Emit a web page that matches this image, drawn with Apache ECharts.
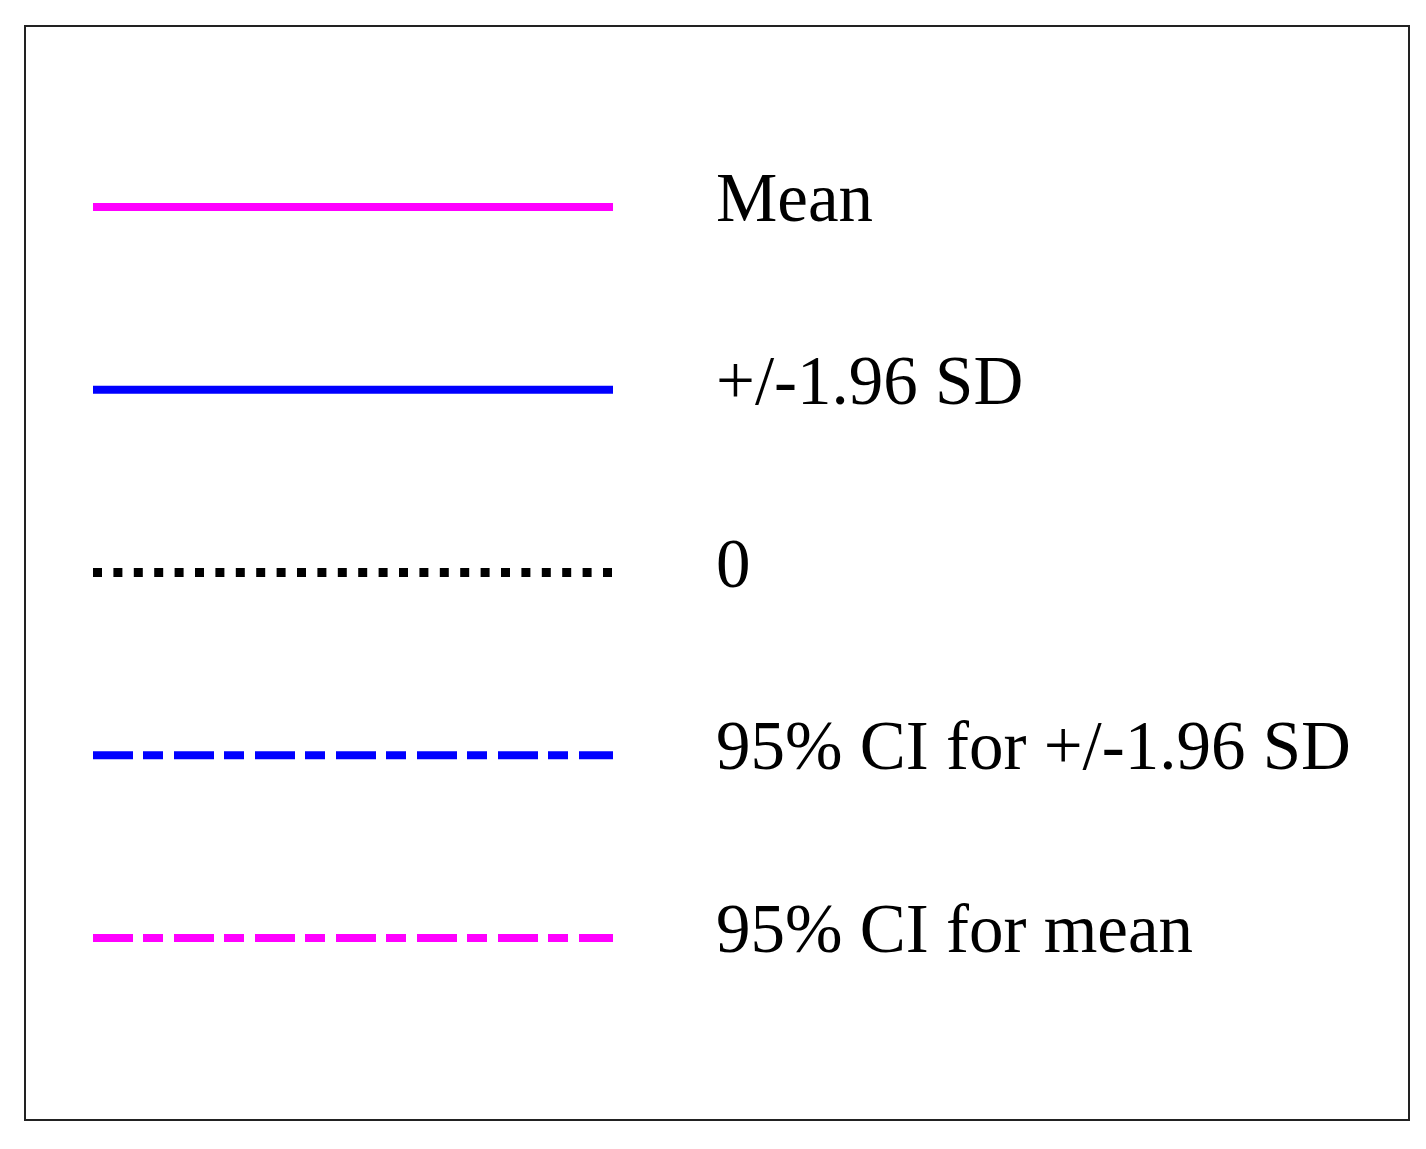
<!DOCTYPE html>
<html>
<head>
<meta charset="utf-8">
<script src="https://cdn.jsdelivr.net/npm/echarts@6/dist/echarts.min.js"></script>
<style>
  html, body { margin: 0; padding: 0; background: #fff; }
  #chart { width: 1426px; height: 1149px; }
</style>
</head>
<body>
<div id="chart"></div>
<script>
// legend entries, top to bottom
var names = ['Mean', '+/-1.96 SD', '0', '95% CI for +/-1.96 SD', '95% CI for mean'];
var rows = [0, 1, 2, 3, 4];   // row index of each entry
var lineFrom = 0, lineTo = 1; // sample line runs across the whole key column

var colors = ['#ff00ff', '#0000ff', '#000000', '#0000ff', '#ff00ff'];
var dashes = ['solid', 'solid', [9, 11.4], [40, 10, 20, 11], [40, 10, 20, 11]];

var myChart = echarts.init(document.getElementById('chart'));

var series = [];
for (let i = 0; i < names.length; i++) {
  series.push({
    name: names[i],
    type: 'line',
    showSymbol: false,
    silent: true,
    data: [[lineFrom, rows[i]], [lineTo, rows[i]]],
    lineStyle: {
      color: colors[i],
      width: i == 2 ? 9 : 8,
      type: dashes[i],
      cap: 'butt'
    },
    endLabel: {
      show: true,
      formatter: names[i],
      distance: 103,
      offset: [0, -4],
      color: '#000',
      fontFamily: 'Liberation Serif',
      fontSize: 69,
      verticalAlign: 'middle',
      align: 'left'
    }
  });
}

option = {
  backgroundColor: '#fff',
  animation: false,
  grid: { left: 93, top: 207, width: 520, height: 731 },
  xAxis: { type: 'value', min: 0, max: 1, show: false },
  yAxis: { type: 'value', min: 0, max: 4, inverse: true, show: false },
  graphic: [{
    type: 'rect',
    shape: { x: 25, y: 26, width: 1384, height: 1094 },
    style: { fill: 'none', stroke: '#222', lineWidth: 2 },
    silent: true
  }],
  series: series
};
myChart.setOption(option);
</script>
</body>
</html>
